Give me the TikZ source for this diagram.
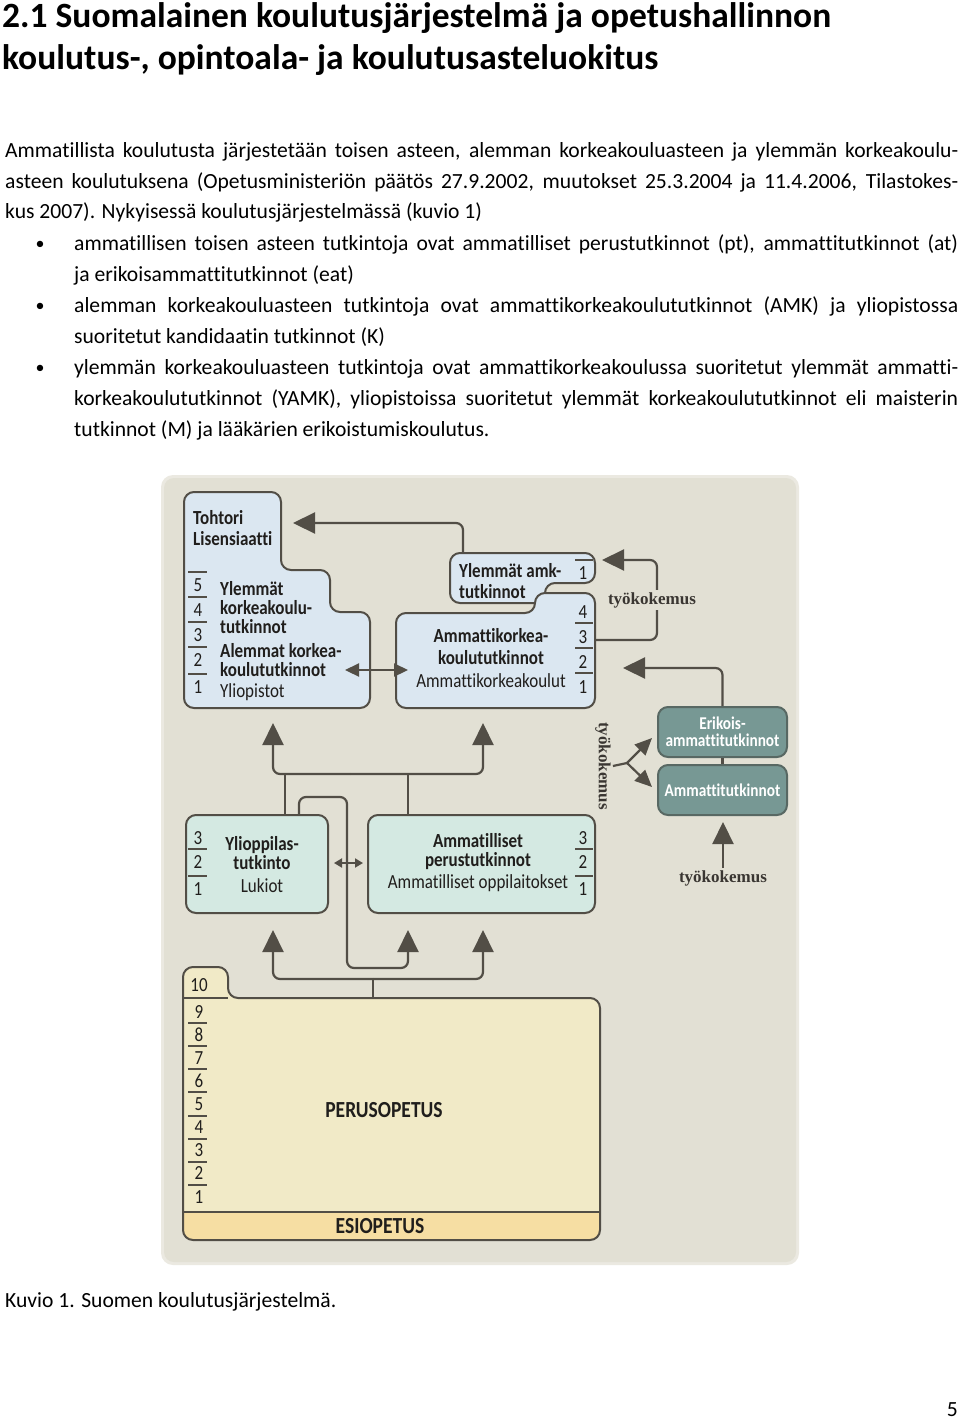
\documentclass[tikz,border=0pt]{standalone}
\usepackage{fontspec}
\setmainfont{Carlito}[Ligatures=NoCommon]
\newfontfamily\diafont[FakeStretch=0.85, Ligatures=NoCommon]{Carlito}
\newfontfamily\workfont{Liberation Serif}
\usetikzlibrary{arrows.meta}

\definecolor{paneback}{RGB}{226,224,212}
\definecolor{paneedge}{RGB}{235,233,225}
\definecolor{uniblue}{RGB}{219,231,241}
\definecolor{secgreen}{RGB}{212,233,226}
\definecolor{vocteal}{RGB}{119,152,148}
\definecolor{tealedge}{RGB}{88,104,99}
\definecolor{basiccream}{RGB}{241,234,199}
\definecolor{preyellow}{RGB}{246,222,163}
\definecolor{outline}{RGB}{82,78,70}
\definecolor{ink}{RGB}{32,30,28}
\definecolor{workink}{RGB}{58,54,50}

\newcommand\justline[2]{\hbox to #1{#2}}

\tikzset{
  headline/.style={anchor=base west, inner sep=0pt, font=\bfseries\fontsize{35.5}{42}\selectfont},
  bodyline/.style={anchor=base west, inner sep=0pt, font=\fontsize{21.6}{31}\selectfont},
  boxline/.style={draw=outline, line width=2pt, rounded corners=10pt},
  conn/.style={draw=outline, line width=2.2pt, rounded corners=7pt},
  bigtip/.style={-{Triangle[width=21pt,length=22pt]}},
  midtip/.style={-{Triangle[width=15pt,length=17pt]}},
  twotip/.style={{Triangle[width=13pt,length=14pt]}-{Triangle[width=13pt,length=14pt]}},
  smalltwo/.style={{Triangle[width=9pt,length=8pt]}-{Triangle[width=9pt,length=8pt]}},
  numsep/.style={draw=outline, line width=1.4pt},
  dbold/.style={inner sep=0pt, text=ink, font=\diafont\bfseries\fontsize{20}{19}\selectfont},
  dreg/.style={inner sep=0pt, text=ink, font=\diafont\fontsize{20}{19}\selectfont},
  dnum/.style={inner sep=0pt, text=ink, font=\diafont\fontsize{20}{20}\selectfont},
  tealbox/.style={draw=tealedge, line width=2pt, fill=vocteal, rounded corners=10pt,
    text=white, align=center, inner sep=0pt, font=\diafont\bfseries\fontsize{18}{17}\selectfont},
  work/.style={inner sep=2pt, fill=paneback, text=workink, font=\workfont\bfseries\fontsize{17}{17}\selectfont},
}

\begin{document}
\begin{tikzpicture}[x=1pt,y=-1pt]
  \useasboundingbox (0,0) rectangle (960,1421);
  \fill[white] (0,0) rectangle (960,1421);

  % heading and body text
  \node[headline] (head1) at (2,28) {2.1 Suomalainen koulutusjärjestelmä ja opetushallinnon};
  \node[headline] (head2) at (2,70) {koulutus-, opintoala- ja koulutusasteluokitus};

  \node[bodyline] (intro1) at (5,157) {\justline{953pt}{Ammatillista koulutusta järjestetään toisen asteen, alemman korkeakouluasteen ja ylemmän korkeakoulu-}};
  \node[bodyline] (intro2) at (5,188) {\justline{953pt}{asteen koulutuksena (Opetusministeriön päätös 27.9.2002, muutokset 25.3.2004 ja 11.4.2006, Tilastokes-}};
  \node[bodyline] (intro3) at (5,218) {kus 2007). Nykyisessä koulutusjärjestelmässä (kuvio 1)};

  \foreach \y [count=\i] in {245,307,369}
    \node[bodyline, anchor=center, font=\fontsize{18}{18}\selectfont] (dot\i) at (40,\y) {\textbullet};
  \node[bodyline] (item1a) at (74,250) {\justline{884pt}{ammatillisen toisen asteen tutkintoja ovat ammatilliset perustutkinnot (pt), ammattitutkinnot (at)}};
  \node[bodyline] (item1b) at (74,281) {ja erikoisammattitutkinnot (eat)};
  \node[bodyline] (item2a) at (74,312) {\justline{884pt}{alemman korkeakouluasteen tutkintoja ovat ammattikorkeakoulututkinnot (AMK) ja yliopistossa}};
  \node[bodyline] (item2b) at (74,343) {suoritetut kandidaatin tutkinnot (K)};
  \node[bodyline] (item3a) at (74,374) {\justline{884pt}{ylemmän korkeakouluasteen tutkintoja ovat ammattikorkeakoulussa suoritetut ylemmät ammatti-}};
  \node[bodyline] (item3b) at (74,405) {\justline{884pt}{korkeakoulututkinnot (YAMK), yliopistoissa suoritetut ylemmät korkeakoulututkinnot eli maisterin}};
  \node[bodyline] (item3c) at (74,436) {tutkinnot (M) ja lääkärien erikoistumiskoulutus.};

  % diagram pane
  \fill[paneedge, rounded corners=12pt] (161,475) rectangle (799,1265);
  \fill[paneback, rounded corners=10pt] (164,478) rectangle (796,1262);

  % universities, amk, upper amk
  \draw[boxline, fill=uniblue] (184,600) -- (184,492) -- (281,492) -- (281,570) -- (330,570)
    -- (330,612) -- (370,612) -- (370,708) -- (184,708) -- cycle;
  \draw[boxline, fill=uniblue] (450,580) -- (450,553) -- (595,553) -- (595,583) -- (545,583)
    -- (545,603) -- (450,603) -- cycle;
  \draw[boxline, fill=uniblue] (396,660) -- (396,613) -- (535,613) -- (535,593) -- (595,593)
    -- (595,708) -- (396,708) -- cycle;

  % upper secondary and vocational boxes
  \node[boxline, fill=secgreen, minimum width=142pt, minimum height=98pt, inner sep=0pt] (lukbox) at (257,864) {};
  \node[boxline, fill=secgreen, minimum width=227pt, minimum height=98pt, inner sep=0pt] (ampbox) at (481.5,864) {};
  \node[tealbox, minimum width=129pt, minimum height=50pt] (eat) at (722.5,732) {Erikois-\\ammattitutkinnot};
  \node[tealbox, minimum width=129pt, minimum height=50pt] (at) at (722.5,790) {Ammattitutkinnot};

  % basic education
  \fill[basiccream, rounded corners=10pt] (183,1100) -- (183,967) -- (228,967) -- (228,998)
    -- (600,998) -- (600,1240) -- (183,1240) -- cycle;
  \fill[preyellow, rounded corners=10pt] (183,1212) -- (183,1240) -- (600,1240) -- (600,1212);
  \draw[boxline] (183,1100) -- (183,967) -- (228,967) -- (228,998)
    -- (600,998) -- (600,1240) -- (183,1240) -- cycle;
  \draw[draw=outline, line width=2pt] (183,1212) -- (600,1212);
  \draw[numsep] (183,998) -- (228,998);

  % connection points
  \coordinate (yoIn) at (273,723);
  \coordinate (amkIn) at (483,723);
  \coordinate (upBar) at (350,774);
  \coordinate (lukOut) at (285,815);
  \coordinate (ampOut) at (408,815);
  \coordinate (lukOut2) at (299,815);
  \coordinate (lukIn) at (273,930);
  \coordinate (ampIn) at (483,930);
  \coordinate (ampIn2) at (408,930);
  \coordinate (lowBar) at (373,979);
  \coordinate (peruOut) at (373,998);
  \coordinate (ylaOut) at (463,553);
  \coordinate (drIn) at (293,523);
  \coordinate (amkOut) at (595,640);
  \coordinate (ylaIn) at (602,560);
  \coordinate (amkIn2) at (623,668);
  \coordinate (atIn) at (723,822);
  \coordinate (fork) at (627,763);
  \coordinate (eatIn) at (652,738);
  \coordinate (atIn2) at (652,787);

  % connectors
  \draw[conn, bigtip] (upBar) -| (yoIn);
  \draw[conn, bigtip] (upBar) -| (amkIn);
  \draw[conn] (lukOut) -- (lukOut |- upBar);
  \draw[conn] (ampOut) -- (ampOut |- upBar);
  \draw[conn, bigtip] (lukOut2) -- (299,797) -- (347,797) -- (347,968) -- (408,968) -- (ampIn2);
  \draw[conn] (peruOut) -- (lowBar);
  \draw[conn, bigtip] (lowBar) -| (lukIn);
  \draw[conn, bigtip] (lowBar) -| (ampIn);
  \draw[conn, bigtip] (ylaOut) |- (drIn);
  \draw[conn, bigtip] (amkOut) -| (657,600) |- (ylaIn);
  \draw[conn, bigtip] (eat.north) |- (amkIn2);
  \draw[conn] (eat.south) -- (at.north);
  \draw[conn, twotip] (345,670) -- (408,670);
  \draw[conn, smalltwo, line width=1.8pt] (lukbox.east |- 0,863) ++(5,0) -- (363,863);

  % separators and year numbers
  \foreach \y in {572,597,622,647,674}
    \draw[numsep] (188,\y) -- (207,\y);
  \foreach \n/\y in {5/585,4/610,3/635,2/660,1/687}
    \node[dnum] (yo\n) at (198,\y) {\n};
  \draw[numsep] (575,560) -- (593,560);
  \node[dnum] (yla1) at (583,573) {1};
  \foreach \y in {623,648,673}
    \draw[numsep] (575,\y) -- (593,\y);
  \foreach \n/\y in {4/612,3/637,2/662,1/687}
    \node[dnum] (amk\n) at (583,\y) {\n};
  \foreach \y in {849,876} {
    \draw[numsep] (188,\y) -- (207,\y);
    \draw[numsep] (575,\y) -- (593,\y);
  }
  \foreach \n/\y in {3/838,2/862,1/889} {
    \node[dnum] (luk\n) at (198,\y) {\n};
    \node[dnum] (amp\n) at (583,\y) {\n};
  }
  \foreach \y in {1023,1046,1069,1092,1116,1139,1162,1185}
    \draw[numsep] (188,\y) -- (207,\y);
  \foreach \n/\y in {10/985,9/1012,8/1035,7/1058,6/1081,5/1104,4/1127,3/1150,2/1173,1/1197}
    \node[dnum] (pk\n) at (199,\y) {\n};

  % box texts
  \node[dbold, anchor=base west] (tohtori) at (193,524) {Tohtori};
  \node[dbold, anchor=base west] (lisens) at (193,545) {Lisensiaatti};
  \node[dbold, anchor=base west] (ylem) at (220,595) {Ylemmät};
  \node[dbold, anchor=base west] (ylem2) at (220,614) {korkeakoulu-};
  \node[dbold, anchor=base west] (ylem3) at (220,633) {tutkinnot};
  \node[dbold, anchor=base west] (alem) at (220,657) {Alemmat korkea-};
  \node[dbold, anchor=base west] (alem2) at (220,676) {koulututkinnot};
  \node[dreg, anchor=base west] (yliop) at (220,697) {Yliopistot};

  \node[dbold, anchor=base west] (ylamk) at (459,577) {Ylemmät amk-};
  \node[dbold, anchor=base west] (ylamk2) at (459,598) {tutkinnot};

  \node[dbold, anchor=base] (amkt) at (491,642) {Ammattikorkea-};
  \node[dbold, anchor=base] (amkt2) at (491,664) {koulututkinnot};
  \node[dreg, anchor=base] (amkk) at (491,687) {Ammattikorkeakoulut};

  \node[dbold, anchor=base] (yot) at (262,850) {Ylioppilas-};
  \node[dbold, anchor=base] (yot2) at (262,869) {tutkinto};
  \node[dreg, anchor=base] (lukiot) at (262,892) {Lukiot};

  \node[dbold, anchor=base] (ampt) at (478,847) {Ammatilliset};
  \node[dbold, anchor=base] (ampt2) at (478,866) {perustutkinnot};
  \node[dreg, anchor=base] (ampo) at (478,888) {Ammatilliset oppilaitokset};

  \node[dbold, font=\diafont\bfseries\fontsize{23}{23}\selectfont] (peru) at (384,1110) {PERUSOPETUS};
  \node[dbold, font=\diafont\bfseries\fontsize{23}{23}\selectfont] (esio) at (380,1226) {ESIOPETUS};

  % work experience labels
  \node[work] (work1) at (652,600) {työkokemus};
  \node[work, rotate=-90] (work2) at (603,766) {työkokemus};
  \node[work] (work3) at (723,878) {työkokemus};
  \draw[conn, bigtip] (work3.north) -- (atIn);
  \draw[conn] (work2.north) -- (fork);
  \draw[conn, midtip] (fork) -- (eatIn);
  \draw[conn, midtip] (fork) -- (atIn2);

  % caption and page number
  \node[bodyline] (caption) at (5,1307) {Kuvio 1. Suomen koulutusjärjestelmä.};
  \node[bodyline, anchor=base east] (pageno) at (958,1416) {5};
\end{tikzpicture}
\end{document}
